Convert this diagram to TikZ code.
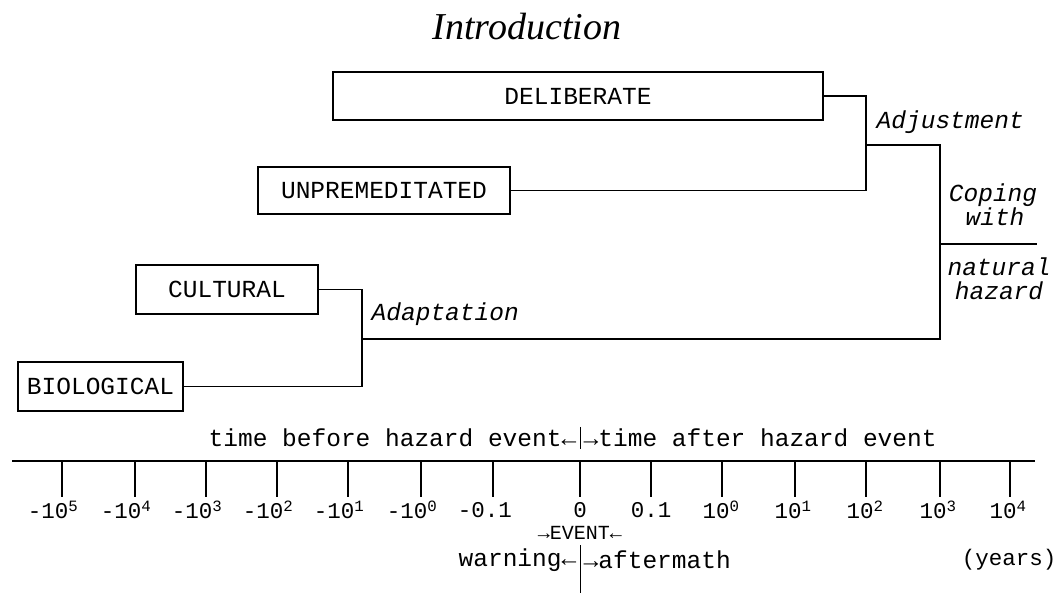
\documentclass[tikz,border=0pt]{standalone}
\usepackage{fontspec}
\setmainfont{Liberation Serif}
\setmonofont{Liberation Mono}
\begin{document}
\begin{tikzpicture}[x=1pt,y=-1pt,
  line width=1.4pt,
  box/.style={draw, line width=1.4pt, inner sep=0pt, font=\ttfamily\fontsize{24.5}{28}\selectfont},
  lbl/.style={font=\ttfamily\itshape\fontsize{24.5}{28}\selectfont, inner sep=0pt},
  axtxt/.style={font=\ttfamily\fontsize{24.5}{28}\selectfont, inner sep=0pt},
  tick/.style={font=\ttfamily\fontsize{22.5}{26}\selectfont, inner sep=0pt}]
\useasboundingbox (0,0) rectangle (1061,593);
\node[inner sep=0pt, font=\itshape\fontsize{38}{42}\selectfont] (title) at (527,27) {Introduction};
% boxes
\node[box, minimum width=490pt, minimum height=48pt] (delib) at (578,96) {DELIBERATE};
\node[box, minimum width=252pt, minimum height=47pt] (unprem) at (384,190.5) {UNPREMEDITATED};
\node[box, minimum width=182pt, minimum height=49pt] (cult) at (227,289.5) {CULTURAL};
\node[box, minimum width=165pt, minimum height=49pt] (bio) at (100.5,386.5) {BIOLOGICAL};
% junctions
\coordinate (adjx) at (866,145);
\coordinate (cope) at (940,244);
\coordinate (sepend) at (1037,244);
\coordinate (adaptx) at (362,339);
\draw (delib.east) -| (adjx) |- (unprem.east);
\draw (cult.east) -| (adaptx) |- (bio.east);
\draw (adjx) -| (cope) |- (adaptx);
\draw (cope) -- (sepend);
% labels
\node[lbl, anchor=west] (adj) at (876,122) {Adjustment};
\node[lbl, align=center] (coping) at (993,205) {Coping\\[-4pt]\hspace*{4pt}with};
\node[lbl, align=center] (nat) at (999,279) {natural\\[-4pt]hazard};
\node[lbl, anchor=west] (adapt) at (371,314) {Adaptation};
% axis
\coordinate (axL) at (12,461);
\coordinate (axR) at (1035,461);
\draw (axL) -- (axR);
\foreach \x in {62,135,206,277,348,421,493,580,651,722,795,866,940,1010}
  \draw (\x,461) -- (\x,497);
\foreach \x/\t in {53/-10\textsuperscript{5},126/-10\textsuperscript{4},197/-10\textsuperscript{3},268/-10\textsuperscript{2},339/-10\textsuperscript{1},412/-10\textsuperscript{0},485/-0.1}
  \node[tick] at (\x,510) {\t};
\foreach \x/\t in {580/0,651/0.1,721/10\textsuperscript{0},793/10\textsuperscript{1},865/10\textsuperscript{2},938/10\textsuperscript{3},1008/10\textsuperscript{4}}
  \node[tick] at (\x,510) {\t};
% time labels
\coordinate (barT1) at (580,427);
\coordinate (barT2) at (580,449);
\draw[line width=1pt] (barT1) -- (barT2);
\node[axtxt, anchor=east] (before) at (577,438) {time before hazard event←};
\node[axtxt, anchor=west] (after) at (583,438) {→time after hazard event};
\node[tick, font=\ttfamily\fontsize{20}{24}\selectfont] (event) at (580,533) {→EVENT←};
\coordinate (barB1) at (580,545);
\coordinate (barB2) at (580,593);
\draw[line width=1pt] (barB1) -- (barB2);
\node[axtxt, anchor=east] (warn) at (577,560) {warning←};
\node[axtxt, anchor=west] (aftm) at (583,560) {→aftermath};
\node[tick, anchor=east] (years) at (1057,560) {(years)};
\end{tikzpicture}
\end{document}
